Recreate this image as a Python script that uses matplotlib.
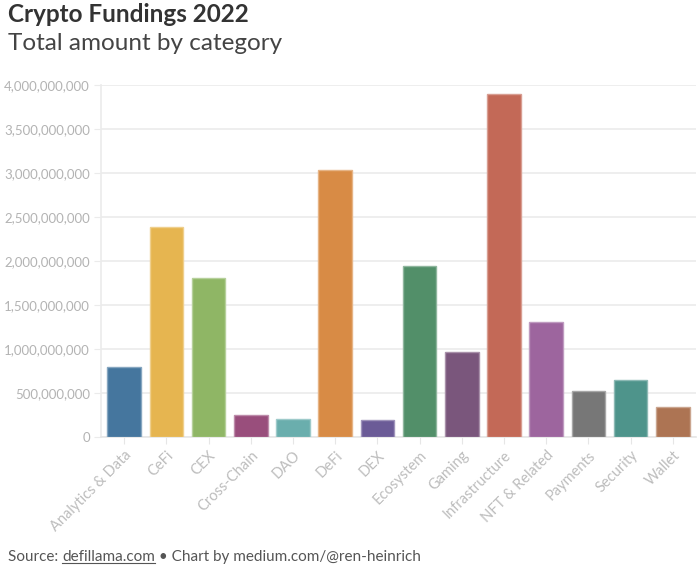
import matplotlib
matplotlib.use("Agg")
import matplotlib.pyplot as plt
from matplotlib.ticker import FuncFormatter, MultipleLocator
import matplotlib.colors as mcolors

categories = ["Analytics & Data", "CeFi", "CEX", "Cross-Chain", "DAO", "DeFi", "DEX",
              "Ecosystem", "Gaming", "Infrastructure", "NFT & Related", "Payments",
              "Security", "Wallet"]
amounts = [790e6, 2384e6, 1809e6, 250e6, 208e6, 3031e6, 193e6,
           1945e6, 965e6, 3894e6, 1306e6, 526e6, 643e6, 344e6]
colors = ["#45769e", "#e6b550", "#8fb665", "#994e7c", "#6aaead", "#d88b45", "#6b5b97",
          "#528f69", "#7a567c", "#c36957", "#9d659e", "#777777", "#4e948b", "#ad7453"]

plt.rcParams['font.family'] = ['Lato', 'DejaVu Sans']

fig = plt.figure(figsize=(7, 5.7), dpi=100)
ax = fig.add_axes([101/700, 1-437/570, 595/700, 352/570])

def lighten(c, f=0.35):
    r, g, b = mcolors.to_rgb(c)
    return (r + (1-r)*f, g + (1-g)*f, b + (1-b)*f)

x = list(range(len(categories)))
ax.bar(x, amounts, width=0.8, color=colors,
       edgecolor=[lighten(c) for c in colors], linewidth=1.0, zorder=3)

ax.set_xlim(-0.55, len(categories) - 0.45)
ax.set_ylim(0, 4e9)
ax.yaxis.set_major_locator(MultipleLocator(5e8))
ax.yaxis.set_major_formatter(FuncFormatter(lambda v, p: f"{int(v):,}"))
ax.grid(axis='y', color='#ebebeb', linewidth=1.2, zorder=0)
for s in ['top', 'right']:
    ax.spines[s].set_visible(False)
ax.spines['left'].set_color('#ebebeb')
ax.spines['left'].set_linewidth(1.2)
ax.spines['bottom'].set_color('#e6e6e6')
ax.spines['bottom'].set_linewidth(1.2)
ax.tick_params(axis='y', length=5, color='#ebebeb', labelcolor='#b3b3b3', labelsize=9.5, pad=3)
ax.tick_params(axis='x', length=5, color='#e6e6e6', labelcolor='#bdbdbd', labelsize=10.5, pad=3)
ax.set_xticks(x)
ax.set_xticklabels(categories, rotation=45, ha='right', rotation_mode='anchor')

fig.text(8/700, 1-3/570, "Crypto Fundings 2022", fontsize=17.5, fontweight='bold',
         color='#333333', va='top', ha='left')
fig.text(8/700, 1-33/570, "Total amount by category", fontsize=17.5,
         color='#444444', va='top', ha='left')

# footer with underlined link
fig.canvas.draw()
renderer = fig.canvas.get_renderer()
fy = 1 - 557/570
fcol = '#555555'
fsz = 11
t1 = fig.text(8/700, fy, "Source: ", fontsize=fsz, color=fcol, va='center', ha='left')
bb1 = t1.get_window_extent(renderer)
x2 = bb1.x1 / fig.bbox.width
t2 = fig.text(x2, fy, "defillama.com", fontsize=fsz, color=fcol, va='center', ha='left')
bb2 = t2.get_window_extent(renderer)
x3 = bb2.x1 / fig.bbox.width
fig.text(x3, fy, " \u2022 Chart by medium.com/@ren-heinrich", fontsize=fsz, color=fcol,
         va='center', ha='left')
uy = (bb2.y0 + 1) / fig.bbox.height
fig.add_artist(plt.Line2D([bb2.x0/fig.bbox.width, x3], [uy, uy],
                          transform=fig.transFigure, color=fcol, linewidth=0.8))

fig.savefig("out.png", dpi=100, facecolor='white')
